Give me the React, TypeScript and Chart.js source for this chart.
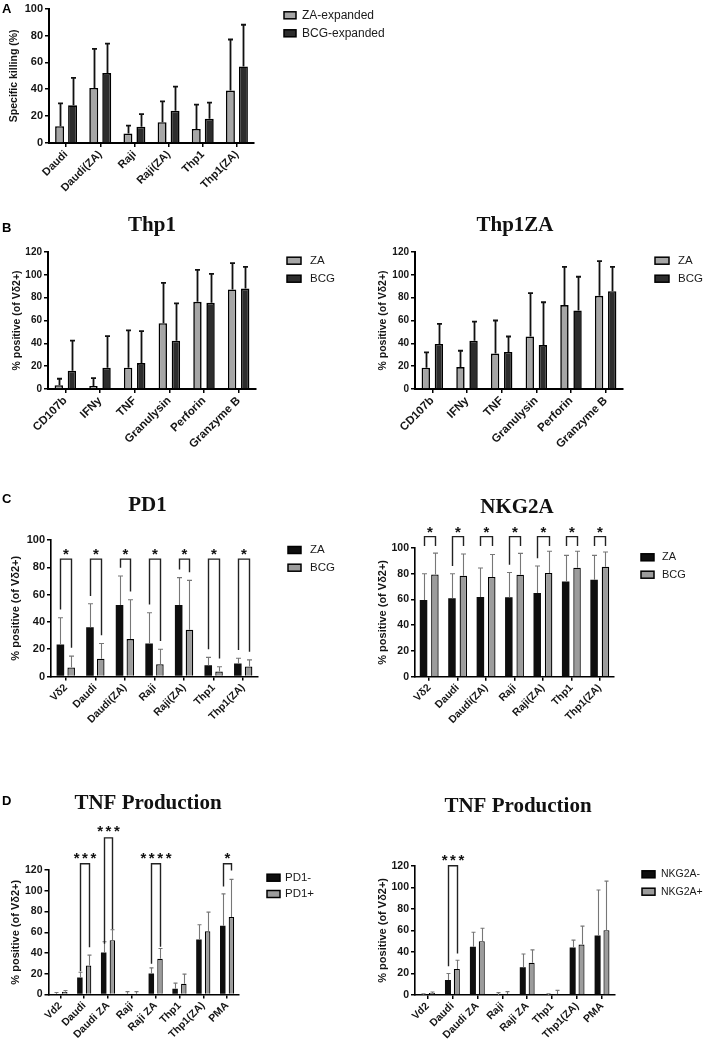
import React, { useEffect, useRef } from 'react';
import { Chart, registerables } from 'chart.js';

Chart.register(...registerables);

const SANS = '"Liberation Sans", Arial, Helvetica, sans-serif';
const SERIF = '"Liberation Serif", "Times New Roman", serif';

// ---------- Panel A ----------
const aCategories = ['Daudi', 'Daudi(ZA)', 'Raji', 'Raji(ZA)', 'Thp1', 'Thp1(ZA)'];
const aZaExpanded = [12.5, 41, 7, 15.5, 10.5, 39];
const aZaExpandedErr = [29.5, 70, 13, 31, 28.5, 77];
const aBcgExpanded = [28, 52, 12, 24, 18, 57];
const aBcgExpandedErr = [48.5, 74, 21.5, 42, 30, 88];

// ---------- Panel B ----------
const bCategories = ['CD107b', 'IFNy', 'TNF', 'Granulysin', 'Perforin', 'Granzyme B'];
const bThp1ZA = [3.2, 2.6, 18.7, 57.7, 76.4, 87.2];
const bThp1ZAErr = [9, 9.6, 51.3, 93, 104.4, 110.2];
const bThp1BCG = [16, 18.7, 22.7, 42.3, 75.5, 88];
const bThp1BCGErr = [42.3, 46.4, 50.7, 75, 100.9, 107];
const bThp1zaZA = [18.7, 19.2, 31, 46, 73.5, 81.6];
const bThp1zaZAErr = [32, 33.5, 60, 84, 107, 112];
const bThp1zaBCG = [39.4, 42.3, 32.4, 38.5, 68.8, 85.7];
const bThp1zaBCGErr = [57, 59, 46, 76, 98.3, 107];

// ---------- Panel C ----------
const cCategories = ['Vδ2', 'Daudi', 'Daudi(ZA)', 'Raji', 'Raji(ZA)', 'Thp1', 'Thp1(ZA)'];
const cPd1ZA = [23.5, 36, 52.3, 24.2, 52.3, 8.3, 9.5];
const cPd1ZAErr = [43, 53.3, 73.6, 46.7, 72.4, 14, 13.4];
const cPd1BCG = [6.6, 13, 27.4, 9, 34.2, 3.7, 7.3];
const cPd1BCGErr = [14.9, 24.2, 56.2, 20, 70.4, 7.1, 12.2];
const cPd1BracketTop = [86, 86, 86, 86, 86, 86, 86];
const cPd1StarY = [92.5, 92.5, 92.5, 92.5, 92.5, 92.5, 92.5];
const cPd1LegZA = [49, 59, 79.6, 52.7, 78.4, 20, 19.4];
const cPd1LegBCG = [21, 30.2, 62.2, 26, 76.4, 13.1, 18.2];
const cPd1Stars = ['*', '*', '*', '*', '*', '*', '*'];

const cNkZA = [59.5, 61, 62, 61.7, 65, 74, 75.4];
const cNkZAErr = [80, 80, 84.5, 81, 86, 94.3, 94.3];
const cNkBCG = [79.5, 78.5, 77.5, 79.3, 80.6, 84.7, 85.5];
const cNkBCGErr = [96, 95.3, 95, 95.8, 97.5, 97.5, 96.9];
const cNkBracketTop = [108.8, 108.8, 108.8, 108.8, 108.8, 108.8, 108.8];
const cNkStarY = [115.5, 115.5, 115.5, 115.5, 115.5, 115.5, 115.5];
const cNkLegZA = [101.5, 86, 101.5, 87, 92, 101.5, 101.5];
const cNkLegBCG = [101.5, 101.5, 101.5, 101.5, 101.5, 101.5, 101.5];
const cNkStars = ['*', '*', '*', '*', '*', '*', '*'];

// ---------- Panel D ----------
const dCategories = ['Vd2', 'Daudi', 'Daudi ZA', 'Raji', 'Raji ZA', 'Thp1', 'Thp1(ZA)', 'PMA'];
const dPd1Neg = [0.8, 16.4, 40.5, 0.8, 20.3, 5.5, 53, 66.2];
const dPd1NegErr = [2, 21.5, 50.8, 2.8, 25.7, 11, 67.2, 97];
const dPd1Pos = [2.6, 28, 52.4, 0.8, 34.4, 10.3, 61, 74.6];
const dPd1PosErr = [3.8, 38, 62.4, 2.8, 44.4, 19.6, 79.4, 111];
const dPd1BracketIdx = [1, 2, 4, 7];
const dPd1BracketTop = [126, 151, 126, 126];
const dPd1StarY = [134.7, 160.8, 134.7, 134.7];
const dPd1LegNeg = [22.5, 48.9, 29.6, 104];
const dPd1LegPos = [45.6, 63, 46, 119.6];
const dPd1Stars = ['***', '***', '****', '*'];

const dNkNeg = [0.3, 14, 44.7, 0, 25.7, 0, 44, 55.2];
const dNkNegErr = [1.2, 20, 58.3, 2.2, 38, 1.2, 50.9, 97.4];
const dNkPos = [1.9, 24.2, 50, 0.9, 30, 1, 46.8, 60.2];
const dNkPosErr = [2.8, 32.2, 62, 3.1, 41.9, 4.3, 63.9, 105.7];
const dNkBracketIdx = [1];
const dNkBracketTop = [120];
const dNkStarY = [129];
const dNkLegNeg = [26.7];
const dNkLegPos = [38.4];
const dNkStars = ['***'];

// ---------- styles ----------
const LIGHT = '#a6a6a6';
const DARK = '#2d2d2d';
const BLACK = '#0e0e0e';
const GREY = '#9c9c9c';

type Series = { label: string; data: number[]; err: number[]; fill: string; border: string; bw: number };
type Bracket = { i: number; top: number; legL: number; legR: number; stars: string; starY: number };
type Panel = {
  id: string;
  canvas: { x: number; y: number; w: number; h: number };
  plot: { l: number; r: number; t: number; b: number };
  labels: string[];
  series: Series[];
  yMax: number;
  yTitle: string;
  yTitleSize: number;
  yTitleX: number;
  tickSize: number;
  xLabelSize: number;
  catPct: number;
  barPct: number;
  axisWidth: number;
  err: { color: string; width: number; cap: number };
  legend: { boxX: number; textX: number; rows: number[]; boxW: number; boxH: number; size: number };
  title?: { text: string; x: number; y: number };
  letter?: { text: string; x: number; y: number };
  brackets?: Bracket[];
};

function makeBrackets(idx: number[], top: number[], legL: number[], legR: number[], stars: string[], starY: number[]): Bracket[] {
  return idx.map((i, k) => ({ i, top: top[k], legL: legL[k], legR: legR[k], stars: stars[k], starY: starY[k] }));
}

const allIdx7 = [0, 1, 2, 3, 4, 5, 6];

const panels: Panel[] = [
  {
    id: 'A',
    canvas: { x: 0, y: 0, w: 400, h: 200 },
    plot: { l: 49, r: 254, t: 7, b: 143 },
    labels: aCategories,
    series: [
      { label: 'ZA-expanded', data: aZaExpanded, err: aZaExpandedErr, fill: LIGHT, border: '#000', bw: 1.6 },
      { label: 'BCG-expanded', data: aBcgExpanded, err: aBcgExpandedErr, fill: DARK, border: '#000', bw: 1.6 },
    ],
    yMax: 100,
    yTitle: 'Specific killing (%)',
    yTitleSize: 10.5,
    yTitleX: 14.5,
    tickSize: 11,
    xLabelSize: 11,
    catPct: 0.76,
    barPct: 0.69,
    axisWidth: 2,
    err: { color: '#111', width: 1.8, cap: 5 },
    legend: { boxX: 284, textX: 302, rows: [15.3, 33.3], boxW: 12, boxH: 7, size: 12 },
    letter: { text: 'A', x: 2, y: 12.5 },
  },
  {
    id: 'B1',
    canvas: { x: 0, y: 200, w: 350, h: 280 },
    plot: { l: 48, r: 256, t: 252, b: 389 },
    labels: bCategories,
    series: [
      { label: 'ZA', data: bThp1ZA, err: bThp1ZAErr, fill: LIGHT, border: '#000', bw: 1.6 },
      { label: 'BCG', data: bThp1BCG, err: bThp1BCGErr, fill: DARK, border: '#000', bw: 1.6 },
    ],
    yMax: 120,
    yTitle: '% positive (of Vδ2+)',
    yTitleSize: 10.5,
    yTitleX: 16.7,
    tickSize: 10,
    xLabelSize: 11.5,
    catPct: 0.756,
    barPct: 0.64,
    axisWidth: 2,
    err: { color: '#111', width: 1.8, cap: 5 },
    legend: { boxX: 287, textX: 310, rows: [260.7, 278.7], boxW: 14, boxH: 7, size: 11.5 },
    title: { text: 'Thp1', x: 152, y: 231 },
    letter: { text: 'B', x: 2, y: 232 },
  },
  {
    id: 'B2',
    canvas: { x: 350, y: 200, w: 357, h: 280 },
    plot: { l: 415, r: 623, t: 252, b: 389 },
    labels: bCategories,
    series: [
      { label: 'ZA', data: bThp1zaZA, err: bThp1zaZAErr, fill: LIGHT, border: '#000', bw: 1.6 },
      { label: 'BCG', data: bThp1zaBCG, err: bThp1zaBCGErr, fill: DARK, border: '#000', bw: 1.6 },
    ],
    yMax: 120,
    yTitle: '% positive (of Vδ2+)',
    yTitleSize: 10.5,
    yTitleX: 383,
    tickSize: 10,
    xLabelSize: 11.5,
    catPct: 0.756,
    barPct: 0.64,
    axisWidth: 2,
    err: { color: '#111', width: 1.8, cap: 5 },
    legend: { boxX: 655, textX: 678, rows: [260.7, 278.7], boxW: 14, boxH: 7, size: 11.5 },
    title: { text: 'Thp1ZA', x: 515, y: 231 },
  },
  {
    id: 'C1',
    canvas: { x: 0, y: 480, w: 350, h: 280 },
    plot: { l: 51, r: 258, t: 540, b: 676.5 },
    labels: cCategories,
    series: [
      { label: 'ZA', data: cPd1ZA, err: cPd1ZAErr, fill: BLACK, border: '#000', bw: 0 },
      { label: 'BCG', data: cPd1BCG, err: cPd1BCGErr, fill: GREY, border: '#000', bw: 1.3 },
    ],
    yMax: 100,
    yTitle: '% positive (of Vδ2+)',
    yTitleSize: 11,
    yTitleX: 16,
    tickSize: 11,
    xLabelSize: 10.5,
    catPct: 0.73,
    barPct: 0.7,
    axisWidth: 1.6,
    err: { color: '#777', width: 1.1, cap: 5 },
    legend: { boxX: 288, textX: 310, rows: [550, 567.7], boxW: 13, boxH: 7, size: 11.5 },
    title: { text: 'PD1', x: 147.5, y: 510.7 },
    letter: { text: 'C', x: 2, y: 503 },
    brackets: makeBrackets(allIdx7, cPd1BracketTop, cPd1LegZA, cPd1LegBCG, cPd1Stars, cPd1StarY),
  },
  {
    id: 'C2',
    canvas: { x: 350, y: 480, w: 357, h: 280 },
    plot: { l: 415, r: 614, t: 548, b: 676.7 },
    labels: cCategories,
    series: [
      { label: 'ZA', data: cNkZA, err: cNkZAErr, fill: BLACK, border: '#000', bw: 0 },
      { label: 'BCG', data: cNkBCG, err: cNkBCGErr, fill: GREY, border: '#000', bw: 1.3 },
    ],
    yMax: 100,
    yTitle: '% positive (of Vδ2+)',
    yTitleSize: 11,
    yTitleX: 383,
    tickSize: 10.5,
    xLabelSize: 10.5,
    catPct: 0.8,
    barPct: 0.66,
    axisWidth: 1.6,
    err: { color: '#777', width: 1.1, cap: 5 },
    legend: { boxX: 641, textX: 662, rows: [557.3, 574.7], boxW: 13, boxH: 7, size: 11 },
    title: { text: 'NKG2A', x: 517, y: 512.7 },
    brackets: makeBrackets(allIdx7, cNkBracketTop, cNkLegZA, cNkLegBCG, cNkStars, cNkStarY),
  },
  {
    id: 'D1',
    canvas: { x: 0, y: 760, w: 350, h: 281 },
    plot: { l: 48.5, r: 239, t: 870, b: 994.5 },
    labels: dCategories,
    series: [
      { label: 'PD1-', data: dPd1Neg, err: dPd1NegErr, fill: BLACK, border: '#000', bw: 0 },
      { label: 'PD1+', data: dPd1Pos, err: dPd1PosErr, fill: GREY, border: '#000', bw: 1.2 },
    ],
    yMax: 120,
    yTitle: '% positive (of Vδ2+)',
    yTitleSize: 11,
    yTitleX: 16,
    tickSize: 10.5,
    xLabelSize: 10.5,
    catPct: 0.73,
    barPct: 0.63,
    axisWidth: 1.6,
    err: { color: '#777', width: 1.1, cap: 4 },
    legend: { boxX: 267, textX: 285, rows: [877.7, 894], boxW: 13, boxH: 7, size: 11.5 },
    title: { text: 'TNF Production', x: 148, y: 809.3 },
    letter: { text: 'D', x: 2, y: 805 },
    brackets: makeBrackets(dPd1BracketIdx, dPd1BracketTop, dPd1LegNeg, dPd1LegPos, dPd1Stars, dPd1StarY),
  },
  {
    id: 'D2',
    canvas: { x: 350, y: 760, w: 357, h: 281 },
    plot: { l: 415, r: 614.5, t: 865.7, b: 995 },
    labels: dCategories,
    series: [
      { label: 'NKG2A-', data: dNkNeg, err: dNkNegErr, fill: BLACK, border: '#000', bw: 0 },
      { label: 'NKG2A+', data: dNkPos, err: dNkPosErr, fill: GREY, border: '#000', bw: 1.2 },
    ],
    yMax: 120,
    yTitle: '% positive (of Vδ2+)',
    yTitleSize: 11,
    yTitleX: 383,
    tickSize: 10.5,
    xLabelSize: 10.5,
    catPct: 0.71,
    barPct: 0.68,
    axisWidth: 1.6,
    err: { color: '#777', width: 1.1, cap: 4 },
    legend: { boxX: 642, textX: 661, rows: [874.3, 891.7], boxW: 13, boxH: 7, size: 10.5 },
    title: { text: 'TNF Production', x: 518, y: 811.7 },
    brackets: makeBrackets(dNkBracketIdx, dNkBracketTop, dNkLegNeg, dNkLegPos, dNkStars, dNkStarY),
  },
];

function makeOverlay(p: Panel) {
  const ox = p.canvas.x;
  const oy = p.canvas.y;
  return {
    id: 'overlay_' + p.id,
    afterDatasetsDraw(chart: any) {
      const ctx: CanvasRenderingContext2D = chart.ctx;
      const yScale = chart.scales.y;
      ctx.save();
      // error bars (upper only)
      p.series.forEach((s, di) => {
        const meta = chart.getDatasetMeta(di);
        ctx.strokeStyle = p.err.color;
        ctx.lineWidth = p.err.width;
        meta.data.forEach((el: any, i: number) => {
          const e = s.err[i];
          if (e == null) return;
          const x = Math.round(el.x) + 0.5;
          const yb = yScale.getPixelForValue(s.data[i]);
          const yt = yScale.getPixelForValue(e);
          ctx.beginPath();
          ctx.moveTo(x, yb);
          ctx.lineTo(x, yt);
          ctx.moveTo(x - p.err.cap / 2, yt);
          ctx.lineTo(x + p.err.cap / 2, yt);
          ctx.stroke();
        });
      });
      // significance brackets
      if (p.brackets) {
        const m0 = chart.getDatasetMeta(0);
        const m1 = chart.getDatasetMeta(1);
        p.brackets.forEach((b) => {
          const xl = Math.round(m0.data[b.i].x) + 0.5;
          const xr = Math.round(m1.data[b.i].x) + 0.5;
          const yt = yScale.getPixelForValue(b.top);
          ctx.strokeStyle = '#222';
          ctx.lineWidth = 1.4;
          ctx.beginPath();
          ctx.moveTo(xl, yScale.getPixelForValue(b.legL));
          ctx.lineTo(xl, yt);
          ctx.lineTo(xr, yt);
          ctx.lineTo(xr, yScale.getPixelForValue(b.legR));
          ctx.stroke();
          const size = 15;
          ctx.font = `bold ${size}px ${SANS}`;
          ctx.fillStyle = '#111';
          ctx.textAlign = 'center';
          ctx.textBaseline = 'alphabetic';
          const n = b.stars.length;
          const spacing = 2.6;
          const w = ctx.measureText('*').width;
          const total = n * w + (n - 1) * spacing;
          const cx = (xl + xr) / 2;
          const by = yScale.getPixelForValue(b.starY) + 0.58 * size;
          for (let k = 0; k < n; k++) {
            const sx = cx - total / 2 + w / 2 + k * (w + spacing);
            ctx.fillText('*', sx, by);
          }
        });
      }
      // legend
      const lg = p.legend;
      p.series.forEach((s, k) => {
        const cy = lg.rows[k] - oy;
        const bx = lg.boxX - ox;
        ctx.fillStyle = s.fill;
        ctx.fillRect(bx, cy - lg.boxH / 2, lg.boxW, lg.boxH);
        ctx.strokeStyle = '#000';
        ctx.lineWidth = 1.5;
        ctx.strokeRect(bx, cy - lg.boxH / 2, lg.boxW, lg.boxH);
        ctx.fillStyle = '#1a1a1a';
        ctx.font = `${lg.size}px ${SANS}`;
        ctx.textAlign = 'left';
        ctx.textBaseline = 'middle';
        ctx.fillText(s.label, lg.textX - ox, cy);
      });
      // title
      if (p.title) {
        ctx.font = `bold 21px ${SERIF}`;
        ctx.fillStyle = '#111';
        ctx.textAlign = 'center';
        ctx.textBaseline = 'alphabetic';
        ctx.fillText(p.title.text, p.title.x - ox, p.title.y - oy);
      }
      if (p.letter) {
        ctx.font = `bold 13px ${SANS}`;
        ctx.fillStyle = '#000';
        ctx.textAlign = 'left';
        ctx.textBaseline = 'alphabetic';
        ctx.fillText(p.letter.text, p.letter.x - ox, p.letter.y - oy);
      }
      ctx.restore();
    },
  };
}

function BarPanel({ p }: { p: Panel }) {
  const ref = useRef<HTMLCanvasElement | null>(null);
  useEffect(() => {
    if (!ref.current) return;
    const yW = p.plot.l - p.canvas.x;
    const xH = p.canvas.y + p.canvas.h - p.plot.b;
    const padTop = p.plot.t - p.canvas.y;
    const padRight = p.canvas.x + p.canvas.w - p.plot.r;
    const titleLH = p.yTitleSize * 1.2;
    const chart = new Chart(ref.current, {
      type: 'bar',
      data: {
        labels: p.labels,
        datasets: p.series.map((s) => ({
          label: s.label,
          data: s.data,
          backgroundColor: s.fill,
          borderColor: s.border,
          borderWidth: s.bw,
          categoryPercentage: p.catPct,
          barPercentage: p.barPct,
        })),
      },
      options: {
        animation: false,
        responsive: false,
        devicePixelRatio: 1,
        layout: { padding: { left: 0, top: padTop, right: padRight, bottom: 0 } },
        plugins: { legend: { display: false }, tooltip: { enabled: false }, title: { display: false } },
        scales: {
          x: {
            type: 'category',
            offset: true,
            grid: { display: true, drawOnChartArea: false, drawTicks: true, tickLength: 4, offset: false, color: '#000', lineWidth: 1.5 },
            border: { display: true, color: '#000', width: p.axisWidth },
            ticks: {
              autoSkip: false,
              maxRotation: 45,
              minRotation: 45,
              padding: 1,
              color: '#151515',
              font: { size: p.xLabelSize, weight: 'bold', family: SANS },
            },
            afterFit: (s: any) => {
              s.height = xH;
            },
          },
          y: {
            min: 0,
            max: p.yMax,
            grid: { display: true, drawOnChartArea: false, drawTicks: true, tickLength: 4, color: '#000', lineWidth: 1.5 },
            border: { display: true, color: '#000', width: p.axisWidth },
            ticks: {
              stepSize: 20,
              padding: 2,
              color: '#151515',
              font: { size: p.tickSize, weight: 'bold', family: SANS },
            },
            title: {
              display: true,
              text: p.yTitle,
              color: '#151515',
              font: { size: p.yTitleSize, weight: 'bold', family: SANS },
              padding: { top: p.yTitleX - p.canvas.x - titleLH / 2, bottom: 0 },
            },
            afterFit: (s: any) => {
              s.width = yW;
            },
          },
        },
      } as any,
      plugins: [makeOverlay(p)],
    });
    return () => chart.destroy();
  }, [p]);
  return (
    <canvas
      ref={ref}
      width={p.canvas.w}
      height={p.canvas.h}
      style={{ position: 'absolute', left: p.canvas.x, top: p.canvas.y, width: p.canvas.w, height: p.canvas.h }}
    />
  );
}

export default function App() {
  return (
    <div style={{ position: 'absolute', left: 0, top: 0, width: 707, height: 1041, background: '#fff', overflow: 'hidden' }}>
      {panels.map((p) => (
        <BarPanel key={p.id} p={p} />
      ))}
    </div>
  );
}
